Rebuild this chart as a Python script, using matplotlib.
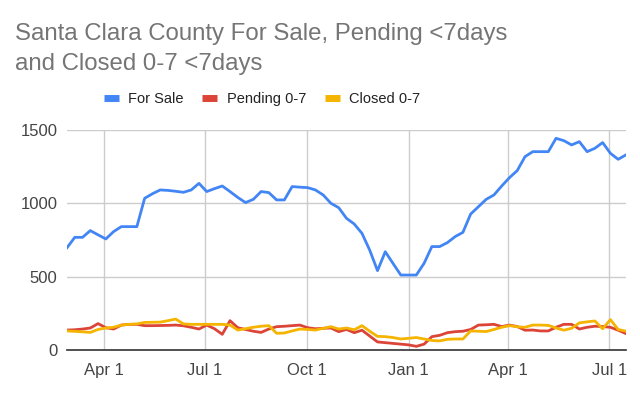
import numpy as np
import pandas as pd
import matplotlib
matplotlib.use("Agg")
import matplotlib.pyplot as plt
from matplotlib.lines import Line2D

# Weekly data, Feb 27 2021 .. Jul 16 2022
dates = pd.date_range("2021-02-27", periods=73, freq="7D")

for_sale = [697, 768, 768, 814, 785, 757, 807, 841, 841, 841,
            1034, 1065, 1091, 1088, 1082, 1075, 1091, 1136, 1080, 1100,
            1118, 1080, 1040, 1005, 1027, 1080, 1073, 1023, 1023, 1114,
            1110, 1107, 1091, 1057, 1000, 970, 898, 859, 795, 680,
            541, 670, 590, 511, 511, 511, 591, 705, 705, 732,
            773, 802, 927, 977, 1027, 1057, 1118, 1175, 1223, 1318,
            1352, 1352, 1352, 1443, 1427, 1398, 1420, 1352, 1375, 1414,
            1341, 1300, 1330]

pending = [136, 138, 143, 150, 180, 152, 143, 170, 175, 175,
           166, 166, 167, 168, 170, 165, 155, 143, 170, 145,
           107, 200, 152, 140, 128, 120, 143, 159, 162, 166,
           170, 152, 145, 148, 150, 125, 140, 118, 135, 95,
           55, 50, 45, 40, 35, 25, 40, 91, 100, 118,
           125, 128, 140, 170, 172, 175, 160, 170, 160, 135,
           136, 130, 130, 155, 175, 175, 143, 155, 162, 160,
           155, 135, 112]

closed = [130, 127, 124, 120, 140, 150, 155, 170, 175, 178,
          188, 189, 190, 200, 211, 178, 175, 175, 175, 175,
          175, 170, 136, 145, 155, 162, 166, 114, 116, 130,
          143, 140, 136, 148, 159, 143, 150, 138, 166, 128,
          93, 91, 85, 75, 80, 85, 75, 65, 62, 73,
          75, 75, 130, 128, 126, 140, 155, 166, 158, 155,
          170, 170, 168, 150, 135, 148, 185, 192, 198, 145,
          207, 140, 128]

series_names = ["For Sale", "Pending 0-7", "Closed 0-7"]
colors = ["#4285F4", "#DB4437", "#F4B400"]

tick_dates = pd.to_datetime(["2021-04-01", "2021-07-01", "2021-10-01",
                             "2022-01-01", "2022-04-01", "2022-07-01"])
tick_labels = ["Apr 1", "Jul 1", "Oct 1", "Jan 1", "Apr 1", "Jul 1"]
y_ticks = [0, 500, 1000, 1500]

plt.rcParams["font.family"] = ["Liberation Sans", "DejaVu Sans"]

fig = plt.figure(figsize=(6.4, 3.95), dpi=100)
ax = fig.add_axes([0.1047, 0.1139, 0.8733, 0.5571])

for vals, c in zip([for_sale, pending, closed], colors):
    ax.plot(dates, vals, color=c, lw=2, solid_joinstyle="round")

ax.set_xlim(dates[0], dates[-1])
ax.set_ylim(0, 1500)
ax.set_xticks(tick_dates)
ax.set_xticklabels(tick_labels)
ax.set_yticks(y_ticks)
ax.tick_params(length=0, labelsize=12, labelcolor="#444444")
ax.tick_params(axis="x", pad=9)
ax.tick_params(axis="y", pad=7)
ax.grid(True, color="#cccccc", lw=1)
ax.set_axisbelow(True)
for s in ["top", "right", "left"]:
    ax.spines[s].set_visible(False)
ax.spines["bottom"].set_color("#333333")
ax.spines["bottom"].set_linewidth(1.2)
ax.spines["bottom"].set_zorder(5)

# Title, two lines, left aligned
fig.text(15 / 640, 1 - 40 / 395, "Santa Clara County For Sale, Pending <7days",
         fontsize=17.3, color="#757575", ha="left", va="baseline")
fig.text(15 / 640, 1 - 70 / 395, "and Closed 0-7 <7days",
         fontsize=17.3, color="#757575", ha="left", va="baseline")

# Legend
handles = [Line2D([], [], color=c, lw=5, solid_capstyle="butt") for c in colors]
fig.legend(handles, series_names, loc="center", bbox_to_anchor=(262 / 640, 1 - 99 / 395),
           ncol=3, frameon=False, fontsize=10.5, handlelength=1.05, handletextpad=0.65,
           columnspacing=1.25, labelcolor="#222222")

fig.savefig("out.png", dpi=100)
